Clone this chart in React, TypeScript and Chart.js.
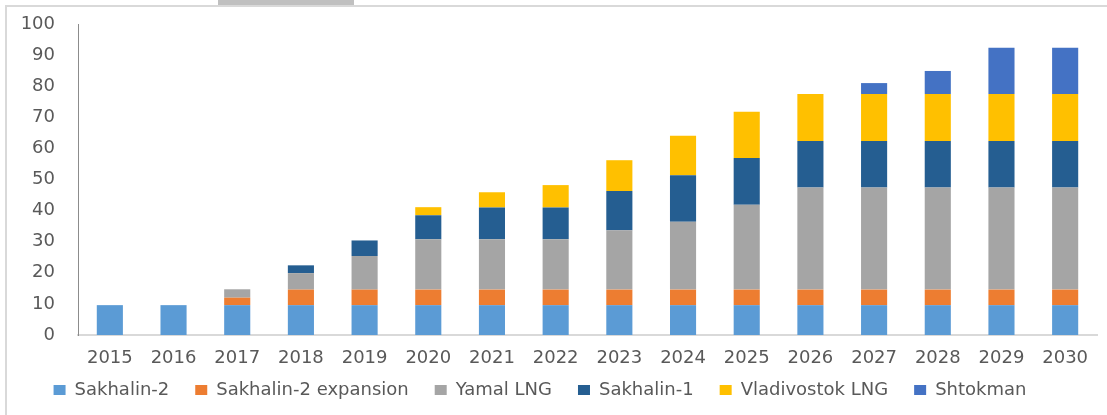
import React, { useEffect, useRef } from "react";
import { Chart, registerables } from "chart.js";

Chart.register(...registerables);

const years = ["2015","2016","2017","2018","2019","2020","2021","2022","2023","2024","2025","2026","2027","2028","2029","2030"];
const sakhalin2 = [9.6,9.6,9.6,9.6,9.6,9.6,9.6,9.6,9.6,9.6,9.6,9.6,9.6,9.6,9.6,9.6];
const sakhalin2Expansion = [null,null,2.4,5.0,5.0,5.0,5.0,5.0,5.0,5.0,5.0,5.0,5.0,5.0,5.0,5.0];
const yamalLng = [null,null,2.7,5.3,10.8,16.2,16.2,16.2,19.1,21.8,27.3,32.8,32.8,32.8,32.8,32.8];
const sakhalin1 = [null,null,null,2.5,5.0,7.7,10.2,10.2,12.6,15.0,15.0,15.0,15.0,15.0,15.0,15.0];
const vladivostokLng = [null,null,null,null,null,2.6,4.9,7.2,9.9,12.7,14.9,15.1,15.1,15.1,15.1,15.1];
const shtokman = [null,null,null,null,null,null,null,null,null,null,null,null,3.5,7.4,14.9,14.9];
const yTicks = [0,10,20,30,40,50,60,70,80,90,100];

const seriesNames = ["Sakhalin-2","Sakhalin-2 expansion","Yamal LNG","Sakhalin-1","Vladivostok LNG","Shtokman"];
const seriesColors = ["#5B9BD5","#ED7D31","#A5A5A5","#255E91","#FFC000","#4472C4"];
const seriesData = [sakhalin2, sakhalin2Expansion, yamalLng, sakhalin1, vladivostokLng, shtokman];

const FONT = "'DejaVu Sans', sans-serif";
const TEXT = "#595959";
const FS = 18;

export default function App() {
  const ref = useRef<HTMLCanvasElement | null>(null);
  useEffect(() => {
    if (!ref.current) return;
    const legendMover = {
      id: "legendMover",
      beforeDraw(chart: any) {
        const lg = chart.legend;
        if (!lg) return;
        const d = (lg.left + lg.right) / 2 - 540;
        lg.left -= d;
        lg.right -= d;
        const P = lg.options.labels.padding;
        lg.top = 390 - P - FS / 2;
      },
    };
    const chart = new Chart(ref.current, {
      type: "bar",
      data: {
        labels: years,
        datasets: seriesData.map((d, i) => ({
          label: seriesNames[i],
          data: d as any,
          backgroundColor: seriesColors[i],
          borderWidth: 0,
          barPercentage: 0.41,
          categoryPercentage: 1,
        })),
      },
      options: {
        animation: false,
        responsive: false,
        layout: { padding: { left: 0, right: 10, top: 24, bottom: 0 } },
        plugins: {
          tooltip: { enabled: false },
          legend: {
            position: "bottom",
            maxHeight: 40,
            labels: {
              boxWidth: 12,
              boxHeight: 10,
              padding: 26,
              color: TEXT,
              font: { family: FONT, size: FS },
            },
          },
        },
        scales: {
          x: {
            stacked: true,
            grid: { display: false, drawTicks: false },
            border: { display: true, color: "#d9d9d9", width: 2 },
            ticks: { color: TEXT, font: { family: FONT, size: FS }, padding: 13, maxRotation: 0, autoSkip: false },
            afterFit: (s: any) => { s.height = 40; },
          },
          y: {
            stacked: true,
            min: 0,
            max: 100,
            afterBuildTicks: (s: any) => { s.ticks = yTicks.map((v) => ({ value: v })); },
            grid: { display: false, drawTicks: false },
            border: { display: true, color: "#8c8c8c", width: 1 },
            ticks: { color: TEXT, font: { family: FONT, size: FS }, padding: 23 },
            afterFit: (s: any) => { s.width = 78; s.paddingTop = 10; s.paddingBottom = 10; },
          },
        },
      },
      plugins: [legendMover],
    });
    return () => chart.destroy();
  }, []);

  return (
    <div style={{ position: "absolute", left: 0, top: 0, width: 1107, height: 415, background: "#fff", overflow: "hidden" }}>
      <canvas ref={ref} width={1107} height={415} style={{ display: "block", position: "absolute", left: 0, top: 0 }} />
      <div style={{ position: "absolute", left: 5, top: 5, width: 1110, height: 420, borderLeft: "2px solid #d9d9d9", borderTop: "2px solid #d9d9d9", pointerEvents: "none" }} />
      <div style={{ position: "absolute", left: 218, top: 0, width: 136, height: 5, background: "#c0c0c0", pointerEvents: "none" }} />
    </div>
  );
}
